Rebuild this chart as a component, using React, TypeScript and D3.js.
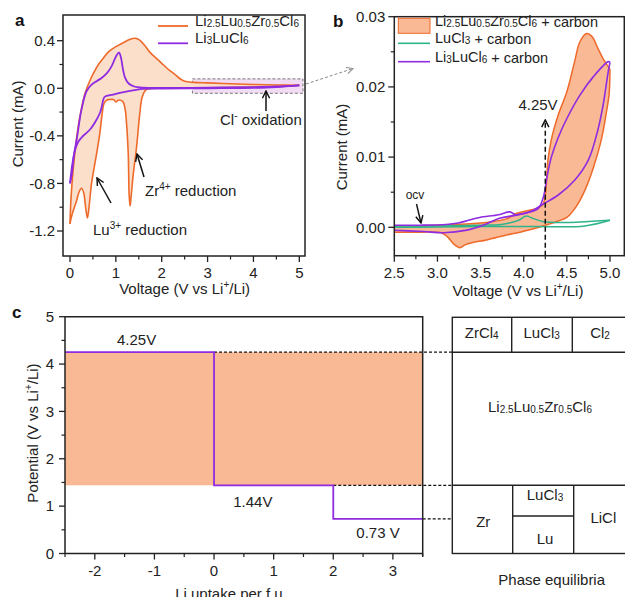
import React from 'react'
import * as d3 from 'd3'

type Pt = [number, number]

const FONT = '"Liberation Sans", Arial, sans-serif'
const ORANGE = '#ee6a2a'
const PEACH = '#fbdfcb'
const SALMON = '#f9b994'
const PURPLE = '#8f2be0'
const GREEN = '#2db48b'

// panel a: CV, current (mA) vs voltage (V)
const aLzzcOxidation: Pt[] = [
  [0, -1.14], [0.02, -0.94], [0.07, -0.68], [0.12, -0.5], [0.18, -0.32], [0.25, -0.17],
  [0.33, -0.04], [0.44, 0.07], [0.53, 0.14], [0.62, 0.2], [0.72, 0.25], [0.85, 0.31],
  [1.0, 0.35], [1.15, 0.38], [1.3, 0.41], [1.42, 0.42], [1.52, 0.405], [1.63, 0.36],
  [1.75, 0.3], [1.89, 0.25], [2.0, 0.21], [2.14, 0.16], [2.28, 0.12], [2.4, 0.08],
  [2.5, 0.06], [2.7, 0.05], [3.0, 0.045], [3.5, 0.038], [4.0, 0.032], [4.5, 0.028], [5.0, 0.025]
]
const aLzzcReduction: Pt[] = [
  [5.0, 0.025], [4.5, 0.014], [4.0, 0.01], [3.5, 0.006], [3.0, 0.004], [2.5, 0.002],
  [2.0, 0.0], [1.74, -0.003], [1.65, -0.015], [1.57, -0.08], [1.52, -0.22], [1.45, -0.5],
  [1.38, -0.72], [1.33, -0.92], [1.31, -0.99], [1.29, -0.9], [1.27, -0.55], [1.23, -0.28],
  [1.2, -0.17], [1.15, -0.11], [1.05, -0.1], [1.0, -0.115], [0.95, -0.095], [0.85, -0.095],
  [0.8, -0.1], [0.74, -0.13], [0.7, -0.22], [0.65, -0.38], [0.58, -0.55], [0.47, -0.8],
  [0.42, -0.98], [0.38, -1.09], [0.34, -1.0], [0.3, -0.88], [0.25, -0.84], [0.2, -0.87],
  [0.14, -0.95], [0.07, -1.03], [0.02, -1.1], [0, -1.14]
]
const aLlcOxidation: Pt[] = [
  [0, -0.8], [0.04, -0.72], [0.09, -0.55], [0.15, -0.42], [0.25, -0.18], [0.36, -0.025],
  [0.47, 0.03], [0.58, 0.06], [0.69, 0.087], [0.8, 0.125], [0.9, 0.18], [0.97, 0.24],
  [1.02, 0.28], [1.07, 0.3], [1.11, 0.26], [1.15, 0.17], [1.2, 0.09], [1.28, 0.04],
  [1.4, 0.015], [1.6, 0.005], [2.0, 0.003], [3.0, 0.005], [4.0, 0.01], [4.5, 0.015], [5.0, 0.025]
]
const aLlcReduction: Pt[] = [
  [5.0, 0.025], [4.5, 0.01], [4.0, 0.003], [3.0, 0.0], [2.0, -0.003], [1.6, -0.005],
  [1.2, -0.03], [0.94, -0.053], [0.76, -0.07], [0.73, -0.09], [0.69, -0.16], [0.65, -0.21],
  [0.54, -0.29], [0.45, -0.34], [0.36, -0.375], [0.26, -0.41], [0.18, -0.45], [0.11, -0.52],
  [0.05, -0.64], [0, -0.8]
]
const aXTicks = [0, 1, 2, 3, 4, 5]
const aXLabels = ['0', '1', '2', '3', '4', '5']
const aYTicks = [-1.2, -0.8, -0.4, 0, 0.4]
const aYLabels = ['-1.2', '-0.8', '-0.4', '0.0', '0.4']

// panel b: CV with carbon
const bLzzcUpper: Pt[] = [
  [2.45, 0.0002], [3.0, 0.0003], [3.5, 0.0006], [3.8, 0.0012], [3.92, 0.002], [4.15, 0.0027],
  [4.22, 0.0032], [4.25, 0.0045], [4.28, 0.0095], [4.32, 0.0125], [4.4, 0.016], [4.5, 0.0193],
  [4.59, 0.0236], [4.65, 0.0264], [4.73, 0.0276], [4.79, 0.0272], [4.86, 0.0255], [4.93, 0.0238],
  [5.0, 0.0225]
]
const bLzzcLower: Pt[] = [
  [5.0, 0.0225], [4.99, 0.019], [4.96, 0.0165], [4.9, 0.0125], [4.81, 0.0086], [4.71, 0.0053],
  [4.6, 0.0028], [4.5, 0.0014], [4.4, 0.0009], [4.25, 0.0003], [3.99, -0.0006], [3.8, -0.0011],
  [3.57, -0.0018], [3.4, -0.0022], [3.32, -0.0025], [3.26, -0.0029], [3.19, -0.0024],
  [3.12, -0.0014], [3.05, -0.0008], [2.8, -0.0007], [2.45, -0.0007]
]
const bLlcUpper: Pt[] = [
  [2.45, 0.0003], [2.8, 0.0003], [3.1, 0.0004], [3.24, 0.0006], [3.36, 0.001], [3.49, 0.0014],
  [3.71, 0.0018], [3.84, 0.0022], [3.9, 0.0018], [4.05, 0.0021], [4.17, 0.0027], [4.23, 0.0044],
  [4.27, 0.0072], [4.32, 0.01], [4.4, 0.0128], [4.5, 0.0155], [4.65, 0.0188], [4.81, 0.0215],
  [4.98, 0.0236], [5.0, 0.0235]
]
const bLlcLower: Pt[] = [
  [5.0, 0.0235], [4.98, 0.0222], [4.92, 0.0174], [4.86, 0.0139], [4.75, 0.0096], [4.59, 0.0067],
  [4.4, 0.0046], [4.21, 0.0032], [4.07, 0.0022], [3.9, 0.0017], [3.72, 0.0013], [3.53, 0.0003],
  [3.34, -0.0004], [3.07, -0.00077], [2.84, -0.0006], [2.45, -0.0004]
]
const bLuUpper: Pt[] = [
  [2.45, 0.0002], [3.0, 0.0002], [3.5, 0.0003], [3.74, 0.0004], [3.94, 0.001], [4.03, 0.0016],
  [4.12, 0.0012], [4.23, 0.0008], [4.5, 0.0007], [4.71, 0.0008], [5.0, 0.001]
]
const bLuLower: Pt[] = [
  [5.0, 0.001], [4.71, 0.0002], [4.13, 0.0001], [3.5, 0.0001], [2.78, 0.0], [2.45, 0.0]
]
const bXTicks = [2.5, 3.0, 3.5, 4.0, 4.5, 5.0]
const bXLabels = ['2.5', '3.0', '3.5', '4.0', '4.5', '5.0']
const bYTicks = [0, 0.01, 0.02, 0.03]
const bYLabels = ['0.00', '0.01', '0.02', '0.03']

// panel c: voltage profile
const cStepX = [-2.5, 0, 2, 3.5]
const cStepV = [4.25, 1.44, 0.73, 0.73]
const cStepLabels = ['4.25V', '1.44V', '0.73 V']
const cXTicks = [-2, -1, 0, 1, 2, 3]
const cXLabels = ['-2', '-1', '0', '1', '2', '3']
const cYTicks = [0, 1, 2, 3, 4, 5]
const cYLabels = ['0', '1', '2', '3', '4', '5']

const xA = d3.scaleLinear().domain([0, 5]).range([70, 299.3])
const yA = d3.scaleLinear().domain([-1.2, 0.4]).range([231, 40.7])
const xB = d3.scaleLinear().domain([2.5, 5]).range([394.3, 610])
const yB = d3.scaleLinear().domain([0, 0.03]).range([227.3, 16.7])
const xC = d3.scaleLinear().domain([-2.5, 3.5]).range([65, 422.7])
const yC = d3.scaleLinear().domain([0, 5]).range([553.5, 316.7])

function lineOf(x: any, y: any) {
  return d3.line<Pt>().x(d => x(d[0])).y(d => y(d[1])).curve(d3.curveCatmullRom.alpha(0.5))
}

function xTicks(scale: any, y: number, major: number[], labels: string[], minorStep: number) {
  const [d0, d1] = scale.domain()
  const minors = d3.range(Math.ceil(d0 / minorStep) * minorStep, d1 + 1e-9, minorStep)
    .filter(v => !major.some(m => Math.abs(m - v) < 1e-9))
  return (
    <g>
      {minors.map(v => <line key={'m' + v} x1={scale(v)} x2={scale(v)} y1={y} y2={y + 3.5} stroke="#222" strokeWidth={1.2} />)}
      {major.map((v, i) => (
        <g key={'M' + v}>
          <line x1={scale(v)} x2={scale(v)} y1={y} y2={y + 6} stroke="#222" strokeWidth={1.3} />
          <text x={scale(v)} y={y + 22} textAnchor="middle">{labels[i]}</text>
        </g>
      ))}
    </g>
  )
}

function yTicks(scale: any, x: number, major: number[], labels: string[], minorStep: number, gap = 9) {
  const [d0, d1] = scale.domain()
  const minors = d3.range(Math.ceil(d0 / minorStep - 1e-9) * minorStep, d1 + 1e-9, minorStep)
    .filter(v => !major.some(m => Math.abs(m - v) < 1e-9))
  return (
    <g>
      {minors.map(v => <line key={'m' + v} x1={x} x2={x - 3.5} y1={scale(v)} y2={scale(v)} stroke="#222" strokeWidth={1.2} />)}
      {major.map((v, i) => (
        <g key={'M' + v}>
          <line x1={x} x2={x - 6} y1={scale(v)} y2={scale(v)} stroke="#222" strokeWidth={1.3} />
          <text x={x - gap} y={scale(v)} dy="0.35em" textAnchor="end">{labels[i]}</text>
        </g>
      ))}
    </g>
  )
}

// chemical formula: alternating normal / subscript parts
function formula(parts: string[], sub = 10) {
  const out: React.ReactNode[] = []
  parts.forEach((p, i) => {
    if (i % 2 === 0) out.push(<tspan key={i} dy={i > 0 ? -1 : 0}>{p}</tspan>)
    else out.push(<tspan key={i} fontSize={sub} dy={1}>{p}</tspan>)
  })
  if (parts.length % 2 === 0) out.push(<tspan key="end" dy={-1}>{''}</tspan>)
  return out
}

const LZZC = ['Li', '2.5', 'Lu', '0.5', 'Zr', '0.5', 'Cl', '6']
const LLC = ['Li', '3', 'LuCl', '6']

export default function App() {
  const lA = lineOf(xA, yA)
  const lB = lineOf(xB, yB)
  const aFill = lA([...aLzzcOxidation, ...aLzzcReduction]) + 'Z'
  const bFill = lB([...bLzzcUpper, ...bLzzcLower]) + 'Z'
  const step = d3.line<number>().x((_, i) => xC(cStepX[i])).y(d => yC(d)).curve(d3.curveStepAfter)

  const aFrame = { x: 63, y: 15, w: 242, h: 241 }
  const bFrame = { x: 394.3, y: 16.7, w: 230, h: 239 }
  const tableL = 452.3
  const tableR = 630
  const colTop = [511.7, 572.3]
  const colBot = [512.7, 573.7]

  return (
    <svg width={625} height={597} style={{ position: 'absolute', left: 0, top: 0 }}
      fontFamily={FONT} fontSize={15} fill="#222">
      <defs>
        <clipPath id="clipA"><rect x={aFrame.x} y={aFrame.y} width={aFrame.w} height={aFrame.h} /></clipPath>
        <clipPath id="clipB"><rect x={bFrame.x} y={bFrame.y} width={bFrame.w} height={bFrame.h} /></clipPath>
        <marker id="arr" viewBox="0 0 10 10" refX={9} refY={5} markerWidth={9} markerHeight={9}
          markerUnits="userSpaceOnUse" orient="auto">
          <path d="M1,1 L9,5 L1,9" fill="none" stroke="#111" strokeWidth={1.6} />
        </marker>
        <marker id="arrG" viewBox="0 0 10 10" refX={9} refY={5} markerWidth={8} markerHeight={8}
          markerUnits="userSpaceOnUse" orient="auto">
          <path d="M1,1 L9,5 L1,9" fill="none" stroke="#888" strokeWidth={1.2} />
        </marker>
      </defs>

      {/* ---------- panel a ---------- */}
      <text x={15} y={26} fontWeight="bold" fontSize={17} fill="#111">a</text>
      <g clipPath="url(#clipA)">
        <rect x={xA(2.67)} y={yA(0.079)} width={xA(5.08) - xA(2.67)} height={yA(-0.042) - yA(0.079)}
          fill="#f1dcf3" stroke="#777" strokeDasharray="3,2" strokeWidth={1} />
        <path d={aFill} fill={PEACH} stroke="none" />
        <path d={lA(aLzzcOxidation) || ''} fill="none" stroke={ORANGE} strokeWidth={1.6} />
        <path d={lA(aLzzcReduction) || ''} fill="none" stroke={ORANGE} strokeWidth={1.6} />
        <path d={lA(aLlcOxidation) || ''} fill="none" stroke={PURPLE} strokeWidth={1.8} />
        <path d={lA(aLlcReduction) || ''} fill="none" stroke={PURPLE} strokeWidth={1.8} />
      </g>
      <rect x={aFrame.x} y={aFrame.y} width={aFrame.w} height={aFrame.h} fill="none" stroke="#222" strokeWidth={1.5} />
      {xTicks(xA, aFrame.y + aFrame.h, aXTicks, aXLabels, 0.5)}
      {yTicks(yA, aFrame.x, aYTicks, aYLabels, 0.2, 8)}
      <text transform={`translate(18,${yA(-0.3)}) rotate(-90)`} textAnchor="middle" dy="0.35em">Current (mA)</text>
      <text x={xA(2.5)} y={294} textAnchor="middle">Voltage (V vs Li<tspan fontSize={10} dy={-6}>+</tspan><tspan dy={6}>/Li)</tspan></text>

      <line x1={158} x2={188} y1={26} y2={26} stroke={ORANGE} strokeWidth={1.8} />
      <text x={195} y={26} dy="0.35em">{formula(LZZC)}</text>
      <line x1={158} x2={188} y1={43.3} y2={43.3} stroke={PURPLE} strokeWidth={1.8} />
      <text x={195} y={43.3} dy="0.35em">{formula(LLC)}</text>

      <line x1={266} y1={111} x2={266} y2={91} stroke="#111" strokeWidth={1.5} markerEnd="url(#arr)" />
      <text x={220} y={125}>Cl<tspan fontSize={10} dy={-6}>-</tspan><tspan dy={6}> oxidation</tspan></text>
      <line x1={144} y1={177} x2={137} y2={154} stroke="#111" strokeWidth={1.5} markerEnd="url(#arr)" />
      <text x={145} y={196}>Zr<tspan fontSize={10} dy={-6}>4+</tspan><tspan dy={6}> reduction</tspan></text>
      <line x1={111} y1={203} x2={97} y2={178} stroke="#111" strokeWidth={1.5} markerEnd="url(#arr)" />
      <text x={93} y={235}>Lu<tspan fontSize={10} dy={-6}>3+</tspan><tspan dy={6}> reduction</tspan></text>

      <line x1={306} y1={84} x2={353} y2={68.5} stroke="#888" strokeWidth={1} strokeDasharray="3,2" markerEnd="url(#arrG)" />

      {/* ---------- panel b ---------- */}
      <text x={333} y={27} fontWeight="bold" fontSize={17} fill="#111">b</text>
      <g clipPath="url(#clipB)">
        <path d={bFill} fill={SALMON} stroke="none" />
        <path d={lB(bLzzcUpper) || ''} fill="none" stroke={ORANGE} strokeWidth={1.5} />
        <path d={lB(bLzzcLower) || ''} fill="none" stroke={ORANGE} strokeWidth={1.5} />
        <path d={lB(bLuUpper) || ''} fill="none" stroke={GREEN} strokeWidth={1.5} />
        <path d={lB(bLuLower) || ''} fill="none" stroke={GREEN} strokeWidth={1.5} />
        <path d={lB(bLlcUpper) || ''} fill="none" stroke={PURPLE} strokeWidth={1.6} />
        <path d={lB(bLlcLower) || ''} fill="none" stroke={PURPLE} strokeWidth={1.6} />
        <line x1={xB(4.25)} x2={xB(4.25)} y1={bFrame.y + bFrame.h} y2={yB(0.0153)} stroke="#111"
          strokeWidth={1.5} strokeDasharray="5,3" markerEnd="url(#arr)" />
      </g>
      <rect x={bFrame.x} y={bFrame.y} width={bFrame.w} height={bFrame.h} fill="none" stroke="#222" strokeWidth={1.5} />
      {xTicks(xB, bFrame.y + bFrame.h, bXTicks, bXLabels, 0.25)}
      {yTicks(yB, bFrame.x, bYTicks, bYLabels, 0.005, 9)}
      <text transform={`translate(342,147) rotate(-90)`} textAnchor="middle" dy="0.35em">Current (mA)</text>
      <text x={518} y={296} textAnchor="middle">Voltage (V vs Li<tspan fontSize={10} dy={-6}>+</tspan><tspan dy={6}>/Li)</tspan></text>

      <g fontSize={14.5}>
        <rect x={398.3} y={18.3} width={31.7} height={15} fill={SALMON} stroke={ORANGE} strokeWidth={1} />
        <text x={435} y={26} dy="0.35em">{formula(LZZC)}<tspan> + carbon</tspan></text>
        <line x1={398} x2={430} y1={43.3} y2={43.3} stroke={GREEN} strokeWidth={1.6} />
        <text x={435} y={43.3} dy="0.35em">{formula(['LuCl', '3'])}<tspan> + carbon</tspan></text>
        <line x1={398} x2={430} y1={61.7} y2={61.7} stroke={PURPLE} strokeWidth={1.6} />
        <text x={435} y={61.7} dy="0.35em">{formula(LLC)}<tspan> + carbon</tspan></text>
      </g>

      <text x={538} y={105} textAnchor="middle" dy="0.35em">4.25V</text>
      <text x={415} y={199} textAnchor="middle" fontSize={12}>ocv</text>
      <line x1={416.5} y1={204} x2={421} y2={223} stroke="#111" strokeWidth={1.4} markerEnd="url(#arr)" />

      {/* ---------- panel c ---------- */}
      <text x={12} y={318} fontWeight="bold" fontSize={17} fill="#111">c</text>
      <rect x={xC(-2.5)} y={yC(cStepV[0])} width={xC(3.5) - xC(-2.5)} height={yC(cStepV[1]) - yC(cStepV[0])} fill={SALMON} />
      <line x1={xC(0)} x2={tableL} y1={yC(cStepV[0])} y2={yC(cStepV[0])} stroke="#111" strokeWidth={1.3} strokeDasharray="3,2" />
      <line x1={xC(2)} x2={tableL} y1={yC(cStepV[1])} y2={yC(cStepV[1])} stroke="#111" strokeWidth={1.3} strokeDasharray="3,2" />
      <line x1={xC(3.5)} x2={tableL} y1={yC(cStepV[2])} y2={yC(cStepV[2])} stroke="#111" strokeWidth={1.3} strokeDasharray="3,2" />
      <path d={step(cStepV) || ''} fill="none" stroke={PURPLE} strokeWidth={1.8} />
      <path d={`M${xC(-2.5)},${yC(0)} V${yC(5)} H${xC(3.5)} V${yC(0) + 3}`} fill="none" stroke="#222" strokeWidth={1.5} />
      <line x1={xC(-2.5)} x2={xC(3.5)} y1={yC(0)} y2={yC(0)} stroke="#222" strokeWidth={1.5} />
      {xTicks(xC, yC(0), cXTicks, cXLabels, 0.5)}
      {yTicks(yC, xC(-2.5), cYTicks, cYLabels, 0.5, 11)}
      <text x={xC(-1.3)} y={340} textAnchor="middle" dy="0.35em">{cStepLabels[0]}</text>
      <text x={xC(0.65)} y={501.7} textAnchor="middle" dy="0.35em">{cStepLabels[1]}</text>
      <text x={xC(2.75)} y={532.3} textAnchor="middle" dy="0.35em">{cStepLabels[2]}</text>
      <text transform={`translate(33,433) rotate(-90)`} textAnchor="middle" dy="0.35em">
        Potential (V vs Li<tspan fontSize={10} dy={-6}>+</tspan><tspan dy={6}>/Li)</tspan>
      </text>
      <text x={231} y={599} textAnchor="middle">Li uptake per f.u.</text>

      {/* phase equilibria table */}
      <g stroke="#222" strokeWidth={1.4} fill="none">
        <rect x={tableL} y={317.3} width={tableR - tableL} height={yC(0) - 317.3} />
        <line x1={tableL} x2={tableR} y1={yC(cStepV[0])} y2={yC(cStepV[0])} />
        <line x1={tableL} x2={tableR} y1={yC(cStepV[1])} y2={yC(cStepV[1])} />
        {colTop.map(c => <line key={'t' + c} x1={c} x2={c} y1={317.3} y2={yC(cStepV[0])} />)}
        {colBot.map(c => <line key={'b' + c} x1={c} x2={c} y1={yC(cStepV[1])} y2={yC(0)} />)}
        <line x1={colBot[0]} x2={colBot[1]} y1={516} y2={516} />
      </g>
      <g textAnchor="middle">
        <text x={481.7} y={337.5} dy="0.35em">{formula(['ZrCl', '4'])}</text>
        <text x={541.7} y={337.5} dy="0.35em">{formula(['LuCl', '3'])}</text>
        <text x={600} y={337.5} dy="0.35em">{formula(['Cl', '2'])}</text>
        <text x={540} y={412.3} dy="0.35em">{formula(LZZC)}</text>
        <text x={483.3} y={521.7} dy="0.35em">Zr</text>
        <text x={545} y={500} dy="0.35em">{formula(['LuCl', '3'])}</text>
        <text x={545} y={538.3} dy="0.35em">Lu</text>
        <text x={603.3} y={517.7} dy="0.35em">LiCl</text>
        <text x={551.7} y={580} dy="0.35em">Phase equilibria</text>
      </g>
    </svg>
  )
}
